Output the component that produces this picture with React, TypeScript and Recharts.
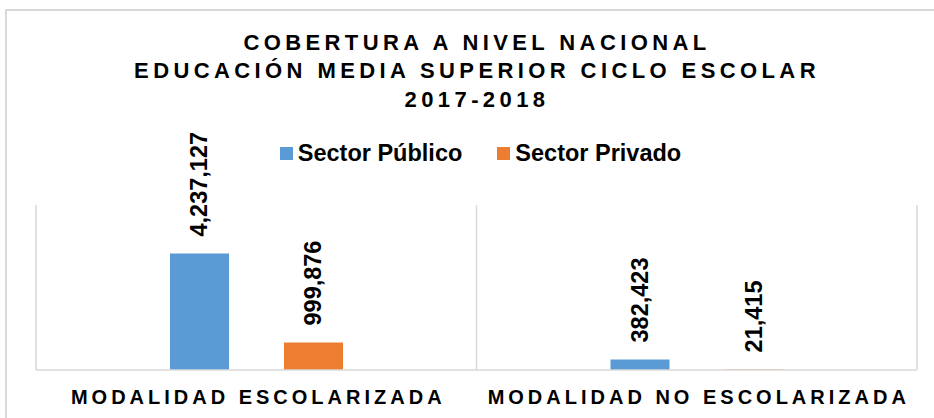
import React from 'react';
import { BarChart, Bar, XAxis, YAxis, CartesianGrid, Legend, LabelList } from 'recharts';

const categories = ['MODALIDAD ESCOLARIZADA', 'MODALIDAD NO ESCOLARIZADA'];
const seriesNames = ['Sector Público', 'Sector Privado'];
const sectorPublico = [4237127, 382423];
const sectorPrivado = [999876, 21415];
const titleLines = ['COBERTURA A NIVEL NACIONAL', 'EDUCACIÓN MEDIA SUPERIOR CICLO ESCOLAR', '2017-2018'];

const data = categories.map((name, i) => ({
  name,
  publico: sectorPublico[i],
  privado: sectorPrivado[i],
}));

const FONT = '"Liberation Sans", Arial, sans-serif';
const GRID = '#d9d9d9';

function ValueLabel(props: any) {
  const { x, y, width, value } = props;
  const cx = x + width / 2;
  const cy = y - 17;
  return (
    <text
      x={cx}
      y={cy}
      transform={`rotate(-90, ${cx}, ${cy})`}
      textAnchor="start"
      dominantBaseline="central"
      fontFamily={FONT}
      fontWeight="bold"
      fontSize={23.5}
      fill="#000"
    >
      {Number(value).toLocaleString('en-US')}
    </text>
  );
}

function CategoryTick(props: any) {
  const { x, y, payload } = props;
  return (
    <text
      x={x}
      y={y}
      dx={2}
      dy={26}
      textAnchor="middle"
      fontFamily={FONT}
      fontWeight="bold"
      fontSize={20}
      letterSpacing={4}
      fill="#000"
    >
      {payload.value}
    </text>
  );
}

function LegendContent(props: any) {
  const items = [...(props.payload || [])].sort(
    (a: any, b: any) => seriesNames.indexOf(a.value) - seriesNames.indexOf(b.value)
  );
  return (
    <div style={{ display: 'flex', justifyContent: 'center', alignItems: 'center', gap: 35 }}>
      {items.map((it: any) => (
        <div key={it.value} style={{ display: 'flex', alignItems: 'center' }}>
          <span style={{ width: 13, height: 13, background: it.color, marginRight: 5, display: 'inline-block' }} />
          <span style={{ fontFamily: FONT, fontWeight: 'bold', fontSize: 23.5, lineHeight: '23.5px', color: '#000' }}>
            {it.value}
          </span>
        </div>
      ))}
    </div>
  );
}

export default function App() {
  return (
    <div style={{ position: 'relative', width: 934, height: 418, overflow: 'hidden', background: '#fff' }}>
      <style>{`body{margin:0;overflow:hidden}`}</style>
      <div
        style={{
          position: 'absolute',
          left: 5,
          top: 9,
          width: 1000,
          height: 1000,
          border: `2px solid ${GRID}`,
        }}
      />
      <div
        style={{
          position: 'absolute',
          left: 0,
          top: 28.5,
          width: 954,
          textAlign: 'center',
          fontFamily: FONT,
          fontWeight: 'bold',
          fontSize: 22,
          lineHeight: '28.5px',
          letterSpacing: 4.4,
          color: '#000',
          zIndex: 2,
        }}
      >
        {titleLines.map((t) => (
          <div key={t}>{t}</div>
        ))}
      </div>
      <BarChart
        width={934}
        height={418}
        data={data}
        margin={{ top: 205, right: 17, left: 36, bottom: 0 }}
        barSize={59}
        barGap={55}
      >
        <CartesianGrid
          horizontal={false}
          stroke={GRID}
          strokeWidth={1.5}
          verticalCoordinatesGenerator={({ offset }: any) =>
            Array.from({ length: categories.length + 1 }, (_, i) => offset.left + (i * offset.width) / categories.length)
          }
        />
        <XAxis
          dataKey="name"
          height={48}
          interval={0}
          tickLine={false}
          axisLine={{ stroke: GRID, strokeWidth: 1.5 }}
          tick={<CategoryTick />}
        />
        <YAxis hide domain={[0, 6000000]} />
        <Legend
          verticalAlign="middle"
          content={<LegendContent />}
          wrapperStyle={{ top: 142, left: 0, width: 961 }}
        />
        <Bar dataKey="publico" name={seriesNames[0]} fill="#5B9BD5" isAnimationActive={false}>
          <LabelList dataKey="publico" content={<ValueLabel />} />
        </Bar>
        <Bar dataKey="privado" name={seriesNames[1]} fill="#ED7D31" isAnimationActive={false}>
          <LabelList dataKey="privado" content={<ValueLabel />} />
        </Bar>
      </BarChart>
    </div>
  );
}
